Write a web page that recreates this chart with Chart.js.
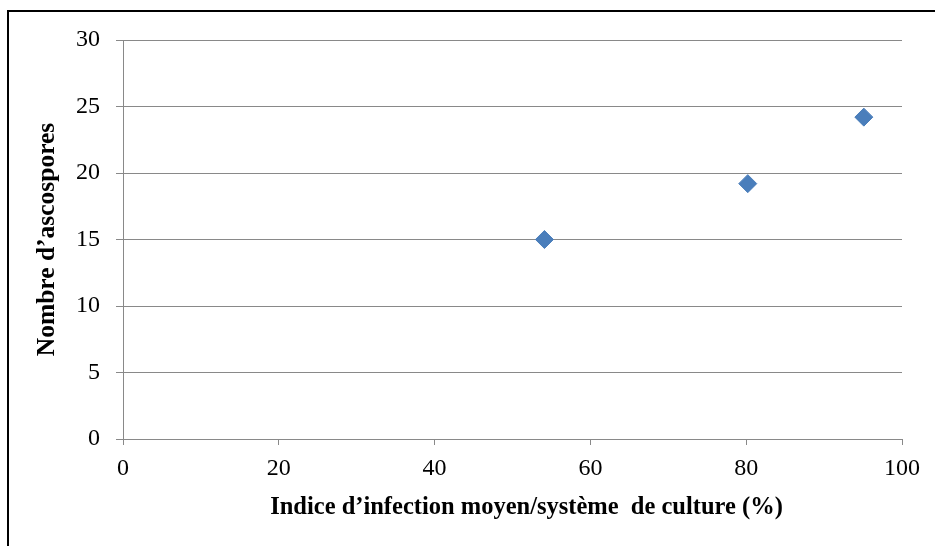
<!DOCTYPE html>
<html>
<head>
<meta charset="utf-8">
<script src="https://cdn.jsdelivr.net/npm/chart.js@4"></script>
<style>
  html, body { margin: 0; padding: 0; background: #fff; }
  #wrap { position: relative; width: 935px; height: 546px; }
</style>
</head>
<body>
<div id="wrap"><canvas id="scatterChart"></canvas></div>
<script>
// infection index (%) per cropping system vs ascospore count
const infectionIndex = [54.1, 80.2, 95.1];
const ascospores = [15, 19.2, 24.2];
const xTicks = [0, 20, 40, 60, 80, 100];
const yTicks = [0, 5, 10, 15, 20, 25, 30];
const xTitle = 'Indice d’infection moyen/système  de culture (%)';
const yTitle = 'Nombre d’ascospores';

const serif = 'Liberation Serif, Times New Roman, serif';
const gridGray = '#898989';

// black frame along the top and left edges
const framePlugin = {
  id: 'frame',
  beforeDraw(chart) {
    const ctx = chart.ctx;
    ctx.save();
    ctx.fillStyle = '#fff';
    ctx.fillRect(0, 0, chart.width, chart.height);
    ctx.fillStyle = '#000';
    ctx.fillRect(7, 10, chart.width - 7, 2);
    ctx.fillRect(7, 10, 2, chart.height - 10);
    ctx.restore();
  }
};

// x-axis title sits a little right of the plot centre
const xTitlePlugin = {
  id: 'xTitle',
  afterDraw(chart) {
    const ctx = chart.ctx;
    const area = chart.chartArea;
    ctx.save();
    ctx.font = 'bold 24.5px ' + serif;
    ctx.fillStyle = '#000';
    ctx.textAlign = 'center';
    ctx.textBaseline = 'middle';
    ctx.fillText(xTitle, (area.left + area.right) / 2 + 14, area.bottom + 69);
    ctx.restore();
  }
};

new Chart(document.getElementById('scatterChart'), {
  type: 'scatter',
  data: {
    datasets: [{
      data: infectionIndex.map((x, i) => ({ x: x, y: ascospores[i] })),
      pointStyle: 'rectRot',
      pointRadius: 9,
      pointHoverRadius: 9,
      backgroundColor: '#4a7ebb',
      borderColor: '#4a7ebb',
      borderWidth: 1,
    }],
  },
  options: {
    responsive: true,
    maintainAspectRatio: false,
    animation: false,
    layout: { padding: { left: 0, top: 40, right: 33, bottom: 0 } },
    plugins: {
      legend: { display: false },
      tooltip: { enabled: false },
    },
    scales: {
      x: {
        type: 'linear',
        min: 0,
        max: 100,
        afterBuildTicks: (scale) => { scale.ticks = xTicks.map(v => ({ value: v })); },
        afterFit: (scale) => { scale.height = 107; },
        grid: { drawOnChartArea: false, drawTicks: true, tickLength: 6, color: gridGray, lineWidth: 1 },
        border: { color: gridGray, width: 1 },
        ticks: { color: '#000', padding: 9, maxRotation: 0, font: { family: serif, size: 24 } },
      },
      y: {
        type: 'linear',
        min: 0,
        max: 30,
        afterBuildTicks: (scale) => { scale.ticks = yTicks.map(v => ({ value: v })); },
        afterFit: (scale) => { scale.width = 123; },
        grid: { drawOnChartArea: true, drawTicks: true, tickLength: 7, color: gridGray, lineWidth: 1 },
        border: { color: gridGray, width: 1 },
        ticks: { color: '#000', padding: 16, font: { family: serif, size: 24 } },
        title: {
          display: true,
          text: yTitle,
          color: '#000',
          padding: { top: 32, bottom: 0 },
          font: { family: serif, size: 25.5, weight: 'bold' },
        },
      },
    },
  },
  plugins: [framePlugin, xTitlePlugin],
});
</script>
</body>
</html>
